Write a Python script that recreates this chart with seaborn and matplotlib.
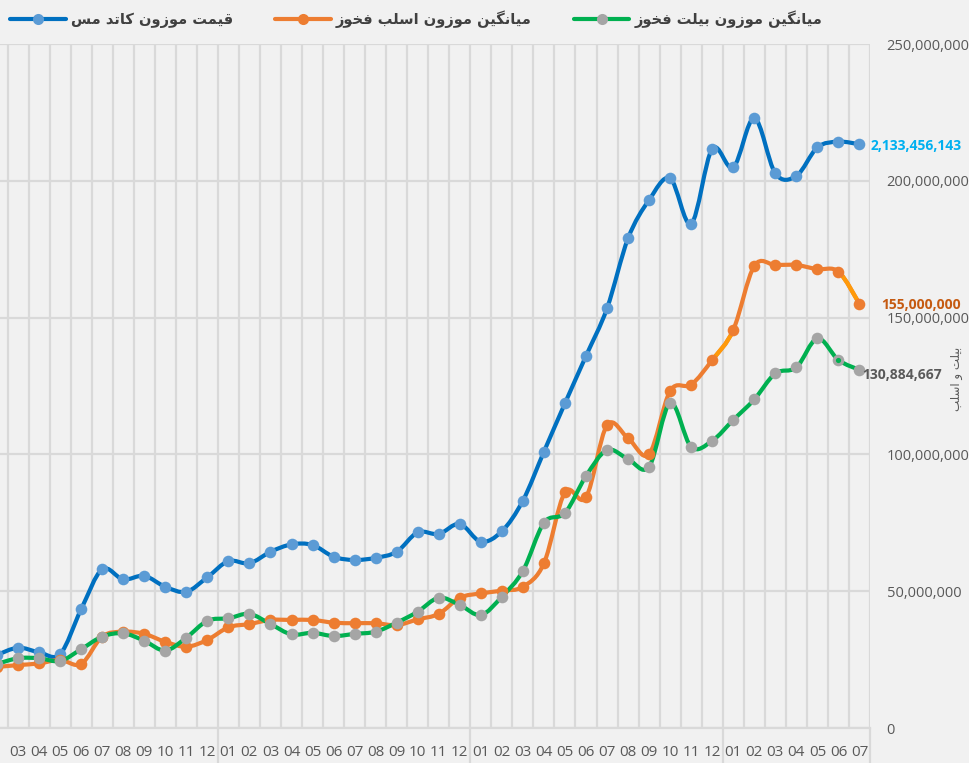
import matplotlib

matplotlib.use("Agg")
import matplotlib.pyplot as plt
import matplotlib.transforms as mtransforms
import numpy as np
import pandas as pd
import seaborn as sns
from matplotlib.lines import Line2D
from matplotlib.patches import PathPatch
from matplotlib.path import Path
from matplotlib.ticker import FuncFormatter

# ---- data ----
months = ["02", "03", "04", "05", "06", "07", "08", "09", "10", "11", "12",
          "01", "02", "03", "04", "05", "06", "07", "08", "09", "10", "11", "12",
          "01", "02", "03", "04", "05", "06", "07", "08", "09", "10", "11", "12",
          "01", "02", "03", "04", "05", "06", "07"]

# قیمت موزون کاتد مس (secondary scale, 10x)
copper = [267_000_000, 293_500_000, 277_000_000, 270_000_000, 434_000_000, 580_000_000,
          543_000_000, 556_000_000, 516_000_000, 498_000_000, 551_000_000, 610_000_000,
          602_000_000, 644_000_000, 671_000_000, 669_000_000, 626_000_000, 614_000_000,
          622_000_000, 644_000_000, 715_000_000, 709_000_000, 746_000_000, 681_000_000,
          719_000_000, 831_000_000, 1_010_000_000, 1_187_000_000, 1_360_000_000, 1_534_000_000,
          1_790_000_000, 1_930_000_000, 2_009_000_000, 1_843_000_000, 2_117_000_000, 2_049_000_000,
          2_229_000_000, 2_027_000_000, 2_018_000_000, 2_122_000_000, 2_143_000_000, 2_133_456_143]

# میانگین موزون اسلب فخوز
slab = [22_300_000, 23_000_000, 23_600_000, 24_900_000, 23_400_000, 33_400_000,
        35_200_000, 34_400_000, 31_500_000, 29_700_000, 32_200_000, 36_800_000,
        38_000_000, 39_500_000, 39_500_000, 39_500_000, 38_500_000, 38_300_000,
        38_300_000, 37_600_000, 39_700_000, 41_700_000, 47_600_000, 49_200_000,
        50_200_000, 51_600_000, 60_200_000, 86_200_000, 84_300_000, 110_700_000,
        105_900_000, 100_100_000, 123_200_000, 125_500_000, 134_500_000, 145_500_000,
        168_900_000, 169_200_000, 169_200_000, 167_700_000, 166_800_000, 155_000_000]

# میانگین موزون بیلت فخوز
billet = [23_400_000, 25_500_000, 25_500_000, 24_500_000, 28_800_000, 33_400_000,
          34_600_000, 31_900_000, 28_300_000, 33_000_000, 39_200_000, 40_100_000,
          41_700_000, 38_000_000, 34_200_000, 34_800_000, 33_600_000, 34_400_000,
          35_200_000, 38_500_000, 42_500_000, 47_600_000, 45_000_000, 41_300_000,
          48_000_000, 57_400_000, 75_000_000, 78_600_000, 92_100_000, 101_600_000,
          98_300_000, 95_500_000, 118_800_000, 102_700_000, 105_000_000, 112_600_000,
          120_100_000, 129_600_000, 131_800_000, 142_400_000, 134_500_000, 130_884_667]

legend_labels = ["قیمت موزون کاتد مس", "میانگین موزون اسلب فخوز", "میانگین موزون بیلت فخوز"]
y_title = "بیلت و اسلب"

# ---- Persian shaping (matplotlib has no Arabic shaping) ----
FORMS = {
    "ا": ("\uFE8D", "\uFE8E", None, None),
    "ب": ("\uFE8F", "\uFE90", "\uFE91", "\uFE92"),
    "ت": ("\uFE95", "\uFE96", "\uFE97", "\uFE98"),
    "خ": ("\uFEA5", "\uFEA6", "\uFEA7", "\uFEA8"),
    "د": ("\uFEA9", "\uFEAA", None, None),
    "ز": ("\uFEAF", "\uFEB0", None, None),
    "س": ("\uFEB1", "\uFEB2", "\uFEB3", "\uFEB4"),
    "ف": ("\uFED1", "\uFED2", "\uFED3", "\uFED4"),
    "ق": ("\uFED5", "\uFED6", "\uFED7", "\uFED8"),
    "ل": ("\uFEDD", "\uFEDE", "\uFEDF", "\uFEE0"),
    "م": ("\uFEE1", "\uFEE2", "\uFEE3", "\uFEE4"),
    "ن": ("\uFEE5", "\uFEE6", "\uFEE7", "\uFEE8"),
    "و": ("\uFEED", "\uFEEE", None, None),
    "ک": ("\uFB8E", "\uFB8F", "\uFB90", "\uFB91"),
    "گ": ("\uFB92", "\uFB93", "\uFB94", "\uFB95"),
    "ی": ("\uFBFC", "\uFBFD", "\uFBFE", "\uFBFF"),
}


def fa(text):
    out = []
    for k, ch in enumerate(text):
        if ch not in FORMS:
            out.append(ch)
            continue
        prev_ch = text[k - 1] if k > 0 else ""
        next_ch = text[k + 1] if k + 1 < len(text) else ""
        join_prev = prev_ch in FORMS and FORMS[prev_ch][2] is not None
        join_next = FORMS[ch][2] is not None and next_ch in FORMS
        iso, fin, ini, med = FORMS[ch]
        if join_prev and join_next:
            out.append(med)
        elif join_prev:
            out.append(fin)
        elif join_next:
            out.append(ini)
        else:
            out.append(iso)
    return "".join(reversed(out))


def bezier_segments(x, y):
    # Excel-like smoothed line (Catmull-Rom -> cubic Bezier)
    pts = np.column_stack([x, y]).astype(float)
    n = len(pts)
    segs = []
    for k in range(n - 1):
        p0 = pts[k - 1] if k > 0 else pts[k]
        p1, p2 = pts[k], pts[k + 1]
        p3 = pts[k + 2] if k + 2 < n else pts[k + 1]
        segs.append((p1, p1 + (p2 - p0) / 6, p2 - (p3 - p1) / 6, p2))
    return segs


def smooth_patch(segs, color, lw, zorder):
    verts = [segs[0][0]]
    codes = [Path.MOVETO]
    for _, c1, c2, p2 in segs:
        verts += [c1, c2, p2]
        codes += [Path.CURVE4] * 3
    return PathPatch(Path(verts, codes), fill=False, edgecolor=color, lw=lw,
                     capstyle="round", joinstyle="round", zorder=zorder)


def main():
    df = pd.DataFrame({"idx": np.arange(len(months)), "month": months,
                       "copper": copper, "slab": slab, "billet": billet})

    sns.set_theme(style="white")
    plt.rcParams["font.family"] = ["Open Sans", "DejaVu Sans"]

    fig = plt.figure(figsize=(9.70, 7.63), dpi=100, facecolor="#F1F1F1")
    ax = fig.add_axes([0, 35 / 763, 870 / 970, 684 / 763])
    ax.set_facecolor("none")
    ax2 = ax.twinx()

    grid_c = "#D9D9D9"
    blue_line, blue_dot = "#0070C0", "#5B9BD5"
    orange_line, orange_dot, orange_light = "#ED7D31", "#ED7D31", "#FF9A0A"
    green_line, gray_dot = "#00B050", "#A5A5A5"

    # lines (smoothed) and markers
    seg_cu = bezier_segments(df["idx"], df["copper"])
    seg_sl = bezier_segments(df["idx"], df["slab"])
    seg_bi = bezier_segments(df["idx"], df["billet"])
    ax.add_patch(smooth_patch(seg_cu, blue_line, 3.0, 2))
    ax2.add_patch(smooth_patch(seg_sl, orange_line, 3.0, 2))
    for k in (34, 40):
        ax2.add_patch(smooth_patch([seg_sl[k]], orange_light, 3.0, 2.1))
    ax2.add_patch(smooth_patch(seg_bi, green_line, 3.0, 2))

    sns.scatterplot(data=df, x="idx", y="copper", ax=ax, color=blue_dot, s=70,
                    linewidth=0, zorder=3, legend=False)
    sns.scatterplot(data=df, x="idx", y="slab", ax=ax2, color=orange_dot, s=70,
                    linewidth=0, zorder=3, legend=False)
    sns.scatterplot(data=df, x="idx", y="billet", ax=ax2, color=gray_dot, s=70,
                    linewidth=0, zorder=3, legend=False)
    ax2.scatter(df["idx"].iloc[40], df["billet"].iloc[40], color=green_line, s=14,
                linewidth=0, zorder=4)
    ax.set_xlabel("")
    ax.set_ylabel("")

    # ticks and grid
    ax.set_xticks(df["idx"])
    ax.set_xticklabels(df["month"], fontsize=11, color="#595959")
    ax.set_xticks(np.arange(-0.5, len(months), 1), minor=True)
    ax.set_yticks(np.arange(0, 2.5e9 + 1, 5e8))
    ax.grid(which="minor", axis="x", color=grid_c, lw=1.6)
    ax.grid(which="major", axis="y", color=grid_c, lw=1.6)
    ax.grid(which="major", axis="x", visible=False)
    ax.tick_params(axis="x", which="both", length=0, pad=12)
    ax.tick_params(axis="y", left=False, labelleft=False, right=False, labelright=False)

    ax2.set_yticks(np.arange(0, 2.5e8 + 1, 5e7))
    ax2.yaxis.set_major_formatter(FuncFormatter(lambda v, p: f"{v:,.0f}"))
    ax2.tick_params(axis="y", length=0, pad=12, labelsize=10.5, labelcolor="#595959")
    ax2.tick_params(axis="x", bottom=False, labelbottom=False, top=False, labeltop=False)
    ax2.grid(False)
    ax2.set_ylabel(fa(y_title), family=["DejaVu Sans"], fontsize=8.5, color="#595959",
                   rotation=90)
    ax2.yaxis.set_label_coords(1.0 + 80 / 870, 0.51)

    # scales (after set_xticks, which widens the view)
    xlim = (3 / 21, len(months) - 0.5)
    ax.set_xlim(xlim)
    ax2.set_xlim(xlim)
    ax.set_ylim(0, 2.5e9)
    ax2.set_ylim(0, 2.5e8)

    for a in (ax, ax2):
        for s in a.spines.values():
            s.set_visible(False)
    ax.spines["bottom"].set_visible(True)
    ax.spines["bottom"].set_color(grid_c)
    ax.spines["bottom"].set_linewidth(1.6)

    # year separators of the category axis
    trans = mtransforms.blended_transform_factory(ax.transData, ax.transAxes)
    for b in [10.5, 22.5, 34.5, len(months) - 0.5]:
        ax.plot([b, b], [0, -0.08], transform=trans, color=grid_c, lw=1.6, clip_on=False)
    ax.set_xlim(xlim)

    # value labels on the last point
    ax.annotate(f"{copper[-1]:,}", xy=(df["idx"].iloc[-1], copper[-1]), xytext=(8, -1),
                textcoords="offset points", va="center", ha="left", color="#00B0F0",
                fontsize=10, fontweight="bold", annotation_clip=False)
    ax2.annotate(f"{slab[-1]:,}", xy=(df["idx"].iloc[-1], slab[-1]), xytext=(16, -1),
                 textcoords="offset points", va="center", ha="left", color="#C55A11",
                 fontsize=10, fontweight="bold", annotation_clip=False)
    ax2.annotate(f"{billet[-1]:,}", xy=(df["idx"].iloc[-1], billet[-1]), xytext=(2, -4),
                 textcoords="offset points", va="center", ha="left", color="#595959",
                 fontsize=10, fontweight="bold", annotation_clip=False, zorder=5)

    handles = [
        Line2D([], [], color=blue_line, lw=3, marker="o", markersize=8,
               markerfacecolor=blue_dot, markeredgewidth=0),
        Line2D([], [], color=orange_line, lw=3, marker="o", markersize=8,
               markerfacecolor=orange_dot, markeredgewidth=0),
        Line2D([], [], color=green_line, lw=3, marker="o", markersize=8,
               markerfacecolor=gray_dot, markeredgewidth=0),
    ]
    fig.legend(handles, [fa(t) for t in legend_labels], loc="upper left",
               bbox_to_anchor=(0.0, 1.0), ncol=3, frameon=False,
               prop={"family": ["DejaVu Sans"], "weight": "bold", "size": 10.5},
               labelcolor="#404040", handlelength=3.8, handletextpad=0.35,
               columnspacing=2.9, borderaxespad=0.3)

    fig.savefig("out.png", dpi=100, facecolor=fig.get_facecolor())
    plt.close(fig)


if __name__ == "__main__":
    main()
